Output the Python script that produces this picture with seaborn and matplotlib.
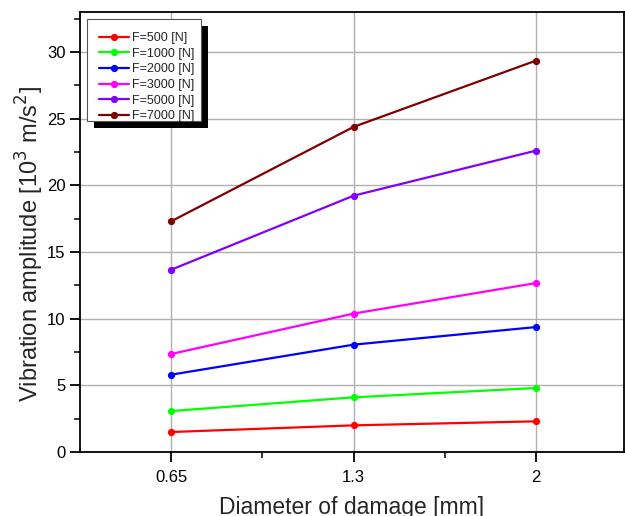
import matplotlib
matplotlib.use('Agg')
import matplotlib.pyplot as plt
from matplotlib.patches import Rectangle
from matplotlib.transforms import IdentityTransform
from matplotlib.ticker import AutoMinorLocator, MultipleLocator
import seaborn as sns
import pandas as pd

# data
diameters = ['0.65', '1.3', '2']
series_names = ['F=500 [N]', 'F=1000 [N]', 'F=2000 [N]', 'F=3000 [N]', 'F=5000 [N]', 'F=7000 [N]']
f500 = [1.5, 2.0, 2.3]
f1000 = [3.07, 4.1, 4.8]
f2000 = [5.8, 8.05, 9.37]
f3000 = [7.35, 10.38, 12.67]
f5000 = [13.67, 19.22, 22.6]
f7000 = [17.3, 24.38, 29.35]
colors = ['#ff0000', '#00ff00', '#0000ff', '#ff00ff', '#8000ff', '#800000']

rows = []
for name, vals in zip(series_names, [f500, f1000, f2000, f3000, f5000, f7000]):
    for d, v in zip(diameters, vals):
        rows.append({'Diameter': d, 'Amplitude': v, 'Force': name})
df = pd.DataFrame(rows)

sns.set_style('ticks')
plt.rcParams['font.family'] = ['Liberation Sans', 'DejaVu Sans']

fig = plt.figure(figsize=(6.25, 5.16), dpi=100)
ax = fig.add_axes([0.128, 0.124, 0.87, 0.853])

sns.pointplot(data=df, x='Diameter', y='Amplitude', hue='Force', order=diameters,
              hue_order=series_names, palette=colors, markers='o', linestyles='-',
              errorbar=None, markersize=4, linewidth=1.6, ax=ax, zorder=3)

ax.set_xlim(-0.5, 2.48)
ax.set_ylim(0, 33)
ax.yaxis.set_major_locator(MultipleLocator(5))
ax.yaxis.set_minor_locator(AutoMinorLocator(2))
ax.set_xticks([0, 1, 2])
ax.set_xticks([0.5, 1.5], minor=True)
ax.grid(True, which='major', color='#b0b0b0', linewidth=1.0, zorder=0)
ax.set_axisbelow(True)

for s in ax.spines.values():
    s.set_linewidth(1.3)
    s.set_color('black')
ax.tick_params(which='major', direction='out', length=7, width=1.3, labelsize=12, colors='black')
ax.tick_params(which='minor', direction='out', length=4, width=1.3)
ax.tick_params(axis='x', pad=6)

ax.set_xlabel('Diameter of damage [mm]', fontsize=16.5, labelpad=8)
ax.set_ylabel('Vibration amplitude [10$^3$ m/s$^2$]', fontsize=17)
ax.yaxis.set_label_coords(-0.062, 0.473)

# legend entries without frame; the framed box with shadow is drawn by hand
leg = ax.legend(loc='upper left', bbox_to_anchor=(0.035, 0.954), borderaxespad=0,
                fontsize=9, frameon=False, handlelength=2.4, handletextpad=0.25,
                labelspacing=0.29, borderpad=0, title=None)
leg.set_zorder(10)

fig.canvas.draw()
bb = leg.get_window_extent()
x0, x1 = bb.x0 - 12, bb.x1 + 6
y0, y1 = bb.y0 + 1, bb.y1 + 13.5
shadow = Rectangle((x0 + 7, y0 - 7), x1 - x0, y1 - y0,
                   facecolor='black', edgecolor='none', zorder=8)
frame = Rectangle((x0, y0), x1 - x0, y1 - y0,
                  facecolor='white', edgecolor='#555555', linewidth=0.8, zorder=9)
for p in (shadow, frame):
    p.set_transform(IdentityTransform())
    p.set_clip_on(False)
    ax.add_artist(p)

fig.savefig('out.png', dpi=100)
